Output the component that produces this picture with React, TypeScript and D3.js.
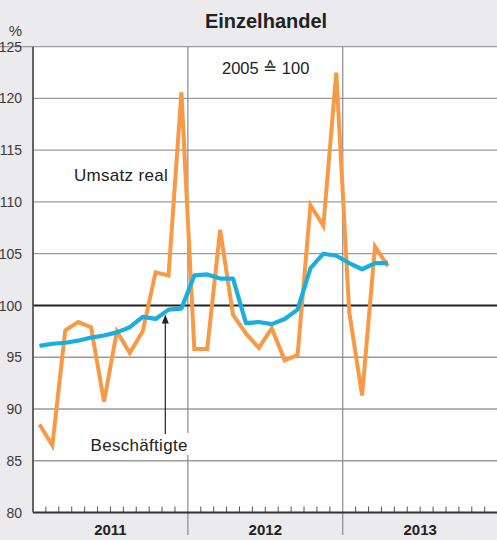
import { useEffect, useRef } from 'react';
import * as d3 from 'd3';

// monthly values, Jan 2011 - Apr 2013, 2005 = 100
const umsatz = [
  88.5, 86.5, 97.6, 98.4, 97.9, 90.7, 97.5, 95.4, 97.5, 103.2, 102.9, 120.6,
  95.8, 95.8, 107.3, 99.1, 97.3, 95.9, 97.8, 94.7, 95.2, 109.7, 107.7, 122.5,
  99.4, 91.3, 105.7, 103.8,
];
const beschaeftigte = [
  96.1, 96.3, 96.4, 96.6, 96.9, 97.1, 97.4, 97.9, 98.9, 98.7, 99.6, 99.7,
  102.9, 103.0, 102.6, 102.6, 98.3, 98.4, 98.2, 98.7, 99.6, 103.6, 105.0, 104.8,
  104.1, 103.5, 104.1, 104.1,
];
const years = ['2011', '2012', '2013'];
const yTicks = [80, 85, 90, 95, 100, 105, 110, 115, 120, 125];

const W = 497;
const H = 540;

export default function App() {
  const ref = useRef<SVGSVGElement>(null);

  useEffect(() => {
    if (!ref.current) return;
    document.body.style.margin = '0';
    const svg = d3.select(ref.current);
    svg.selectAll('*').remove();

    const x = d3.scaleLinear().domain([0, 36]).range([33, 497.6]);
    const y = d3.scaleLinear().domain([80, 125]).range([512.5, 46.7]);
    const font = "'Liberation Sans', Arial, Helvetica, sans-serif";

    svg.append('rect').attr('width', W).attr('height', H).attr('fill', '#ebebee');
    svg
      .append('rect')
      .attr('x', x(0))
      .attr('y', y(125))
      .attr('width', W - x(0))
      .attr('height', y(80) - y(125))
      .attr('fill', '#fff');

    // horizontal grid
    svg
      .append('g')
      .selectAll('line')
      .data(yTicks.filter((d) => d !== 80 && d !== 100))
      .join('line')
      .attr('x1', (d) => (d === 125 ? 0 : x(0)))
      .attr('x2', W)
      .attr('y1', (d) => y(d))
      .attr('y2', (d) => y(d))
      .attr('stroke', '#9a9a9a')
      .attr('stroke-width', 1.3);

    // year separators
    svg
      .append('g')
      .selectAll('line')
      .data([12, 24])
      .join('line')
      .attr('x1', (d) => x(d))
      .attr('x2', (d) => x(d))
      .attr('y1', y(125))
      .attr('y2', 535)
      .attr('stroke', '#8a8a8a')
      .attr('stroke-width', 1.2);

    // 100 line
    svg
      .append('line')
      .attr('x1', x(0))
      .attr('x2', W)
      .attr('y1', y(100))
      .attr('y2', y(100))
      .attr('stroke', '#222')
      .attr('stroke-width', 1.8);

    // month ticks
    svg
      .append('g')
      .selectAll('line')
      .data(d3.range(1, 36).filter((d) => d % 12 !== 0))
      .join('line')
      .attr('x1', (d) => x(d))
      .attr('x2', (d) => x(d))
      .attr('y1', y(80))
      .attr('y2', y(80) - 6)
      .attr('stroke', '#555')
      .attr('stroke-width', 1);

    // axes
    svg
      .append('line')
      .attr('x1', x(0))
      .attr('x2', W)
      .attr('y1', y(80))
      .attr('y2', y(80))
      .attr('stroke', '#333')
      .attr('stroke-width', 2);
    svg
      .append('line')
      .attr('x1', x(0))
      .attr('x2', x(0))
      .attr('y1', y(125))
      .attr('y2', y(80))
      .attr('stroke', '#555')
      .attr('stroke-width', 1.8);

    // y labels
    svg
      .append('g')
      .selectAll('text')
      .data(yTicks)
      .join('text')
      .attr('x', 22)
      .attr('y', (d) => y(d))
      .attr('dy', '0.36em')
      .attr('text-anchor', 'end')
      .attr('font-family', font)
      .attr('font-size', 14)
      .attr('fill', '#3a3a3a')
      .text((d) => d);
    svg
      .append('text')
      .attr('x', 22)
      .attr('y', 36)
      .attr('text-anchor', 'end')
      .attr('font-family', font)
      .attr('font-size', 15)
      .attr('fill', '#3a3a3a')
      .text('%');

    // year labels
    svg
      .append('g')
      .selectAll('text')
      .data(years)
      .join('text')
      .attr('x', (_, i) => x(i * 12 + 6))
      .attr('y', 535)
      .attr('text-anchor', 'middle')
      .attr('font-family', font)
      .attr('font-weight', 'bold')
      .attr('font-size', 15)
      .attr('fill', '#222')
      .text((d) => d);

    // title
    svg
      .append('text')
      .attr('x', 266)
      .attr('y', 28)
      .attr('text-anchor', 'middle')
      .attr('font-family', font)
      .attr('font-weight', 'bold')
      .attr('font-size', 20)
      .attr('fill', '#222')
      .text('Einzelhandel');

    const line = d3
      .line<number>()
      .x((_, i) => x(i + 0.5))
      .y((d) => y(d));

    svg
      .append('path')
      .datum(umsatz)
      .attr('d', line)
      .attr('fill', 'none')
      .attr('stroke', '#f89a45')
      .attr('stroke-width', 4)
      .attr('stroke-linejoin', 'miter')
      .attr('stroke-miterlimit', 4);

    svg
      .append('path')
      .datum(beschaeftigte)
      .attr('d', line)
      .attr('fill', 'none')
      .attr('stroke', '#1aaee0')
      .attr('stroke-width', 4.2)
      .attr('stroke-linejoin', 'round');

    // annotations
    svg
      .append('text')
      .attr('x', 222)
      .attr('y', 74)
      .attr('font-family', font)
      .attr('font-size', 16.5)
      .attr('fill', '#222')
      .text('2005 ≙ 100');
    svg
      .append('text')
      .attr('x', 74)
      .attr('y', 181)
      .attr('font-family', font)
      .attr('font-size', 17)
      .attr('letter-spacing', 0.3)
      .attr('fill', '#222')
      .text('Umsatz real');

    svg
      .append('rect')
      .attr('x', 88)
      .attr('y', 433)
      .attr('width', 106)
      .attr('height', 22)
      .attr('fill', '#fff');
    svg
      .append('text')
      .attr('x', 90.5)
      .attr('y', 451)
      .attr('font-family', font)
      .attr('font-size', 17)
      .attr('letter-spacing', 0.3)
      .attr('fill', '#222')
      .text('Beschäftigte');

    const ax = 165.3;
    const tip = y(beschaeftigte[10]) + 5;
    svg
      .append('line')
      .attr('x1', ax)
      .attr('x2', ax)
      .attr('y1', 434)
      .attr('y2', tip + 6)
      .attr('stroke', '#222')
      .attr('stroke-width', 1.2);
    svg
      .append('path')
      .attr('d', `M${ax},${tip} L${ax - 3.5},${tip + 9} L${ax + 3.5},${tip + 9} Z`)
      .attr('fill', '#222');
  }, []);

  return <svg ref={ref} width={W} height={H} style={{ display: 'block' }} />;
}
